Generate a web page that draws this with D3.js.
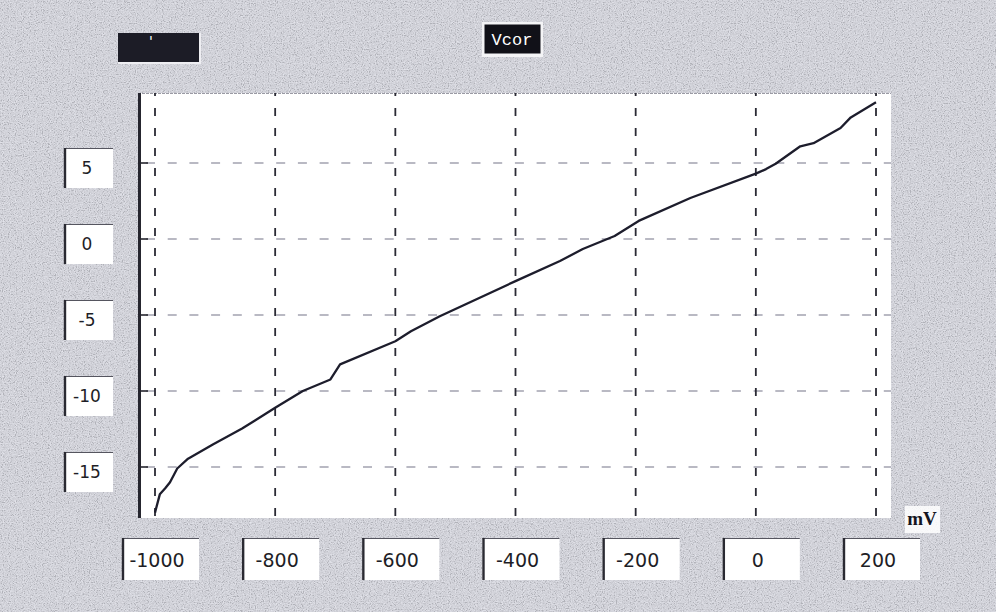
<!DOCTYPE html>
<html>
<head>
<meta charset="utf-8">
<script src="https://cdn.jsdelivr.net/npm/d3@7/dist/d3.min.js"></script>
<style>
  html, body { margin: 0; padding: 0; background: #c8c9cf; }
  svg { display: block; }
</style>
</head>
<body>
<div id="chart"></div>
<script>
// Corrected voltage (Vcor) versus applied potential in mV
const potentialMv = [-1000, -992, -983, -975, -963, -945, -903, -855, -800, -754,
                     -708, -692, -600, -574, -526, -400, -326, -288, -235, -195,
                     -109, 0, 17, 33, 74, 96, 141, 158, 200];
const vcorValues  = [-18.0, -16.8, -16.4, -16.0, -15.1, -14.45, -13.5, -12.47, -11.1, -10.0,
                     -9.24, -8.25, -6.73, -6.07, -5.08, -2.77, -1.45, -0.66, 0.2, 1.19,
                     2.7, 4.3, 4.6, 4.95, 6.1, 6.3, 7.3, 8.0, 9.0];
const xTickValues = [-1000, -800, -600, -400, -200, 0, 200];
const yTickValues = [5, 0, -5, -10, -15];
const chartTitle = "Vcor";
const xUnit = "mV";

const W = 996, H = 612;
const frame = { left: 138, top: 93, right: 891, bottom: 518 };

const svg = d3.select("#chart").append("svg")
  .attr("width", W).attr("height", H);

// grainy panel background
const defs = svg.append("defs");
const grain = defs.append("filter").attr("id", "grain")
  .attr("x", 0).attr("y", 0).attr("width", "100%").attr("height", "100%");
grain.append("feTurbulence").attr("type", "fractalNoise")
  .attr("baseFrequency", 0.85).attr("numOctaves", 2).attr("seed", 7).attr("result", "n");
grain.append("feColorMatrix").attr("in", "n").attr("type", "matrix").attr("result", "g")
  .attr("values", "0.33 0.33 0.33 0 0  0.33 0.33 0.33 0 0  0.33 0.33 0.33 0 0  0 0 0 0 1");
const ct = grain.append("feComponentTransfer").attr("in", "g");
["feFuncR", "feFuncG", "feFuncB"].forEach(f =>
  ct.append(f).attr("type", "linear").attr("slope", 2.6).attr("intercept", -1.0));

svg.append("rect").attr("width", W).attr("height", H).attr("fill", "#e4e5ee");
svg.append("rect").attr("width", W).attr("height", H)
  .attr("filter", "url(#grain)").attr("opacity", 0.22);

// scales
const x = d3.scaleLinear().domain([-1000, 200]).range([155, 876]);
const y = d3.scaleLinear().domain([-15, 5]).range([467, 163]);

// plot area
svg.append("rect")
  .attr("x", frame.left).attr("y", frame.top)
  .attr("width", frame.right - frame.left).attr("height", frame.bottom - frame.top)
  .attr("fill", "#ffffff");
svg.append("line")
  .attr("x1", frame.left).attr("x2", frame.right)
  .attr("y1", frame.top + 0.5).attr("y2", frame.top + 0.5)
  .attr("stroke", "#9a9aa4").attr("stroke-width", 1.2).attr("stroke-dasharray", "3,1");

// horizontal grid (light dashes)
svg.append("g").selectAll("line").data(yTickValues).join("line")
  .attr("x1", frame.left).attr("x2", frame.right)
  .attr("y1", d => y(d)).attr("y2", d => y(d))
  .attr("stroke", "#a2a2b0").attr("stroke-width", 1.3)
  .attr("stroke-dasharray", "9,12.7").attr("stroke-dashoffset", -8);

// vertical grid (dark dashes)
svg.append("g").selectAll("line").data(xTickValues).join("line")
  .attr("x1", d => x(d)).attr("x2", d => x(d))
  .attr("y1", frame.top).attr("y2", frame.bottom)
  .attr("stroke", "#2a2a34").attr("stroke-width", 1.8)
  .attr("stroke-dasharray", "8,12").attr("stroke-dashoffset", -15);

// left axis spine and ticks
svg.append("line")
  .attr("x1", frame.left + 1.5).attr("x2", frame.left + 1.5)
  .attr("y1", frame.top).attr("y2", frame.bottom)
  .attr("stroke", "#25252e").attr("stroke-width", 3);
svg.append("g").selectAll("line").data(yTickValues).join("line")
  .attr("x1", frame.left).attr("x2", frame.left + 10)
  .attr("y1", d => y(d)).attr("y2", d => y(d))
  .attr("stroke", "#25252e").attr("stroke-width", 1.6);

// data curve
const line = d3.line()
  .x((d, i) => x(potentialMv[i]))
  .y(d => y(d))
  .curve(d3.curveLinear);
svg.append("path")
  .datum(vcorValues)
  .attr("d", line)
  .attr("fill", "none")
  .attr("stroke", "#1d1d2c")
  .attr("stroke-width", 2.3)
  .attr("stroke-linejoin", "round");

// label boxes (sunken style: dark top/left edge)
function labelBox(g, bx, by, bw, bh) {
  g.append("rect").attr("x", bx).attr("y", by).attr("width", bw).attr("height", bh)
    .attr("fill", "#ffffff");
  g.append("line").attr("x1", bx).attr("x2", bx + bw).attr("y1", by + 0.5).attr("y2", by + 0.5)
    .attr("stroke", "#55555f").attr("stroke-width", 1.2);
  g.append("line").attr("x1", bx + 1).attr("x2", bx + 1).attr("y1", by).attr("y2", by + bh)
    .attr("stroke", "#2a2a32").attr("stroke-width", 2.4);
}

// plain hyphen-minus labels
const tickText = v => String(v);

// y tick labels
const yLab = svg.append("g");
yTickValues.forEach(v => {
  const cy = y(v) + 5;
  const g = yLab.append("g");
  labelBox(g, 64, cy - 20, 49, 40);
  g.append("text").attr("x", 87).attr("y", cy)
    .attr("text-anchor", "middle").attr("dominant-baseline", "central")
    .attr("font-family", "DejaVu Sans").attr("font-size", 17)
    .attr("fill", "#1e1e26").text(tickText(v));
});

// x tick labels
const xLab = svg.append("g");
xTickValues.forEach(v => {
  const cx = x(v);
  const g = xLab.append("g");
  labelBox(g, cx - 33, 538, 77, 42);
  g.append("text").attr("x", cx + 2).attr("y", 560)
    .attr("text-anchor", "middle").attr("dominant-baseline", "central")
    .attr("font-family", "DejaVu Sans").attr("font-size", 19)
    .attr("fill", "#1e1e26").text(tickText(v));
});

// unit label
svg.append("rect").attr("x", 905).attr("y", 506).attr("width", 35).attr("height", 27)
  .attr("fill", "#ffffff").attr("opacity", 0.85);
svg.append("text").attr("x", 922).attr("y", 525)
  .attr("text-anchor", "middle")
  .attr("font-family", "Liberation Serif").attr("font-weight", "bold").attr("font-size", 19)
  .attr("fill", "#15151f").text(xUnit);

// title box
svg.append("rect").attr("x", 482).attr("y", 22).attr("width", 61).attr("height", 35)
  .attr("fill", "#f4f4f6");
svg.append("rect").attr("x", 484.5).attr("y", 24.5).attr("width", 56).attr("height", 29)
  .attr("fill", "#111118");
svg.append("text").attr("x", 512).attr("y", 45)
  .attr("text-anchor", "middle")
  .attr("font-family", "Liberation Mono").attr("font-size", 17)
  .attr("fill", "#ffffff").text(chartTitle);

// dark button, top left
svg.append("rect").attr("x", 118).attr("y", 33).attr("width", 83).attr("height", 31)
  .attr("fill", "#eeeef2");
svg.append("rect").attr("x", 118).attr("y", 33).attr("width", 81).attr("height", 29)
  .attr("fill", "#1c1c26");
svg.append("text").attr("x", 151).attr("y", 46)
  .attr("text-anchor", "middle")
  .attr("font-family", "DejaVu Sans").attr("font-size", 14)
  .attr("fill", "#ffffff").text("'");
</script>
</body>
</html>
